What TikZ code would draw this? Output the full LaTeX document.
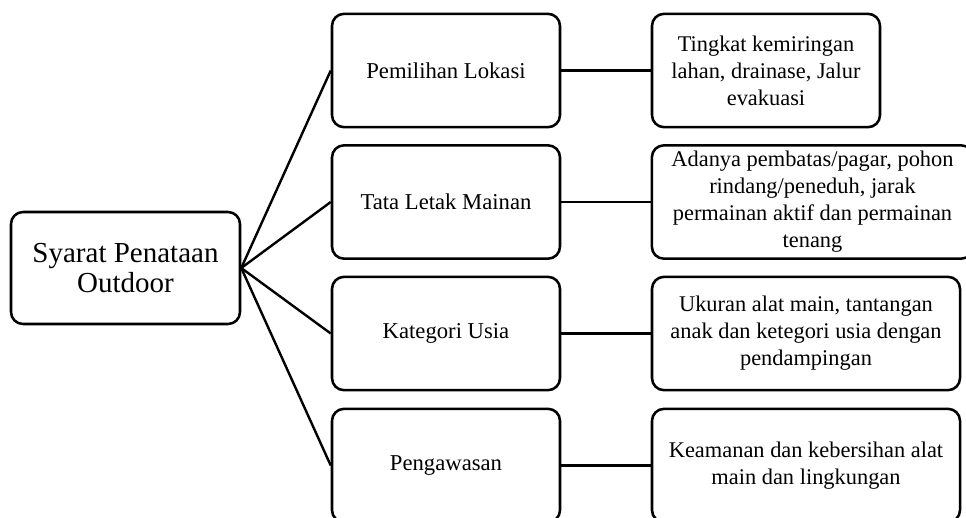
\documentclass[tikz,border=0pt]{standalone}
\usepackage{fontspec}
\setmainfont{Liberation Serif}
\begin{document}
\begin{tikzpicture}[x=0.75pt,y=-0.75pt,
  box/.style={draw=black,line width=1.9pt,rounded corners=9pt,fill=white,
    align=center,inner sep=0pt,minimum height=85pt},
  rootbox/.style={box,minimum width=171.75pt,minimum height=84pt,
    font=\fontsize{21.75}{22.5}\selectfont},
  midbox/.style={box,minimum width=171pt,font=\fontsize{17}{20.25}\selectfont},
  leafbox/.style={box,font=\fontsize{16.8}{20.25}\selectfont},
  link/.style={line width=1.8pt,draw=black}]
\useasboundingbox (0,0) rectangle (966,517);

% root
\node[rootbox] (root) at (125.5,268) {Syarat Penataan\\Outdoor};

% second level
\node[midbox] (lokasi) at (446,70.5)  {Pemilihan Lokasi};
\node[midbox] (tata)   at (446,202)   {Tata Letak Mainan};
\node[midbox] (usia)   at (446,333.5) {Kategori Usia};
\node[midbox] (awas)   at (446,465.5) {Pengawasan};

% details
\node[leafbox,minimum width=171pt] (d1) at (766,70.5)
  {Tingkat kemiringan\\lahan, drainase, Jalur\\evakuasi};
\node[leafbox,minimum width=241pt] (d2) at (812.5,202)
  {Adanya pembatas/pagar, pohon\\rindang/peneduh, jarak\\permainan aktif dan permainan\\tenang};
\node[leafbox,minimum width=231pt] (d3) at (806,333.5)
  {Ukuran alat main, tantangan\\anak dan ketegori usia dengan\\pendampingan};
\node[leafbox,minimum width=231pt] (d4) at (806,465.5)
  {Keamanan dan kebersihan alat\\main dan lingkungan};

% connectors
\foreach \m in {lokasi,tata,usia,awas}
  \draw[link] (root.east) -- (\m.west);
\draw[link] (lokasi.east) -- (d1.west);
\draw[link] (tata.east)   -- (d2.west);
\draw[link] (usia.east)   -- (d3.west);
\draw[link] (awas.east)   -- (d4.west);
\end{tikzpicture}
\end{document}
